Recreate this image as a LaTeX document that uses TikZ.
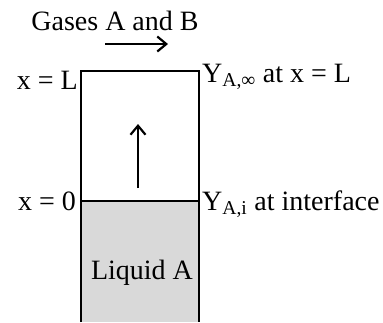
\documentclass[tikz,border=0pt]{standalone}
\usepackage{fontspec}
\setmainfont{Liberation Serif}
\usetikzlibrary{arrows.meta,positioning,calc}

\begin{document}
\begin{tikzpicture}[x=1pt,y=-1pt,
  lbl/.style={font=\fontsize{28}{32}\selectfont, inner sep=0pt},
  wall/.style={line width=2.2pt},
  flow/.style={line width=2.2pt,-{Straight Barb[length=9pt,width=15pt,line width=2.2pt]}}]
  \useasboundingbox (0,0) rectangle (383,322);
  % tube corners
  \coordinate (tl) at (81,71);
  \coordinate (tr) at (199,71);
  \coordinate (il) at (81,201);
  \coordinate (ir) at (199,201);
  \coordinate (bl) at (81,322);
  \coordinate (br) at (199,322);
  \fill[gray!30] (il) rectangle (br);
  \draw[wall] (bl) -- (tl) -- (tr) -- (br);
  \draw[wall] (il) -- (ir);
  % labels
  \node[lbl, anchor=base] (gas) at (115,30) {Gases A and B};
  \node[lbl, anchor=base east] (xl) at (78,89) {x = L};
  \node[lbl, anchor=base west] (yinf) at (202,82) {Y\textsubscript{A,∞} at x = L};
  \node[lbl, anchor=base east] (x0) at (76,210) {x = 0};
  \node[lbl, anchor=base west] (yi) at (202,210) {Y\textsubscript{A,i} at interface};
  \node[lbl, anchor=base] (liq) at (142,279) {Liquid A};
  % flow arrows
  \coordinate (h1) at (105,44);
  \coordinate (h2) at (168,44);
  \draw[flow] (h1) -- (h2);
  \coordinate (v1) at (138,188);
  \coordinate (v2) at (138,124);
  \draw[flow] (v1) -- (v2);
\end{tikzpicture}
\end{document}
